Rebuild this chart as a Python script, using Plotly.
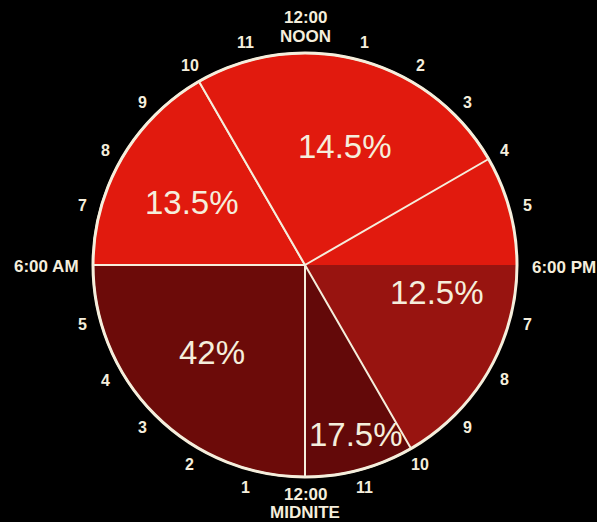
import math
import plotly.graph_objects as go

# ---- data (slices listed clockwise starting at 4 PM) ----
slice_names = ["4–6 PM", "6–10 PM", "10 PM–12", "12–6 AM", "6–10 AM", "10 AM–4 PM"]
slice_hours = [2, 4, 2, 6, 4, 6]
slice_text = ["", "12.5%", "17.5%", "42%", "13.5%", "14.5%"]

# clock face labels, clockwise starting at noon (one per hour)
clock_labels = ["12:00<br>NOON", "1", "2", "3", "4", "5", "6:00 PM", "7", "8", "9", "10", "11",
                "12:00<br>MIDNITE", "1", "2", "3", "4", "5", "6:00 AM", "7", "8", "9", "10", "11"]

# ---- style ----
W, H = 597, 522
CX, CY, R = 305, 265, 212
START_ANGLE = 60  # 4 PM, degrees clockwise from noon (15 deg per hour)
slice_colors = ["#e11a0e", "#981410", "#630909", "#6c0b09", "#e11a0e", "#e11a0e"]
slice_line_w = [0, 0, 2, 2, 2, 2]
CREAM = "#f5eedc"
FONT = "Liberation Sans, Arial, sans-serif"
# label placement: (clock angle in degrees from noon, fraction of radius)
label_place = [(0, 0), (101.6, 0.637), (163.3, 0.835), (226.6, 0.604), (298.8, 0.61), (18.7, 0.59)]


def px_to_paper(px, py):
    return px / W, 1 - py / H


fig = go.Figure()
dom_x = [(CX - R) / W, (CX + R) / W]
dom_y = [1 - (CY + R) / H, 1 - (CY - R) / H]

fig.add_trace(go.Pie(
    labels=slice_names, values=slice_hours, sort=False, direction="clockwise",
    rotation=START_ANGLE, textinfo="none", hoverinfo="label",
    marker=dict(colors=slice_colors, line=dict(color=CREAM, width=slice_line_w)),
    domain=dict(x=dom_x, y=dom_y), showlegend=False,
))
# outer rim
fig.add_trace(go.Pie(
    labels=["rim"], values=[1], textinfo="none", hoverinfo="skip",
    marker=dict(colors=["rgba(0,0,0,0)"], line=dict(color=CREAM, width=3)),
    domain=dict(x=dom_x, y=dom_y), showlegend=False,
))

annotations = []


def add_text(px, py, txt, size, xa="center", ya="middle", bold=False):
    x, y = px_to_paper(px, py)
    annotations.append(dict(x=x, y=y, xref="paper", yref="paper",
                            text=("<b>%s</b>" % txt) if bold else txt, showarrow=False,
                            xanchor=xa, yanchor=ya,
                            font=dict(family=FONT, size=size, color=CREAM)))


for txt, (ang, frac) in zip(slice_text, label_place):
    if not txt:
        continue
    a = math.radians(ang)
    add_text(CX + frac * R * math.sin(a), CY - frac * R * math.cos(a), txt, 33)

for i, lab in enumerate(clock_labels):
    a = math.radians(i * 15)
    if i in (0, 12):
        lines = lab.split("<br>")
        cx = CX + 238 * math.sin(a)
        cy = CY - 238 * math.cos(a)
        for k, ln in enumerate(lines):
            add_text(cx, cy + (k - 0.5) * 18, ln, 17, bold=True)
    elif i == 6:
        add_text(CX + 225, CY + 2, lab, 17, xa="left", bold=True)
    elif i == 18:
        add_text(CX - 224, CY + 1, lab, 17, xa="right", bold=True)
    else:
        add_text(CX + 230 * math.sin(a), CY - 230 * math.cos(a), lab, 16, bold=True)

fig.update_layout(
    width=W, height=H, margin=dict(l=0, r=0, t=0, b=0),
    paper_bgcolor="#000000", plot_bgcolor="#000000",
    annotations=annotations,
)
fig.write_html("out.html")
